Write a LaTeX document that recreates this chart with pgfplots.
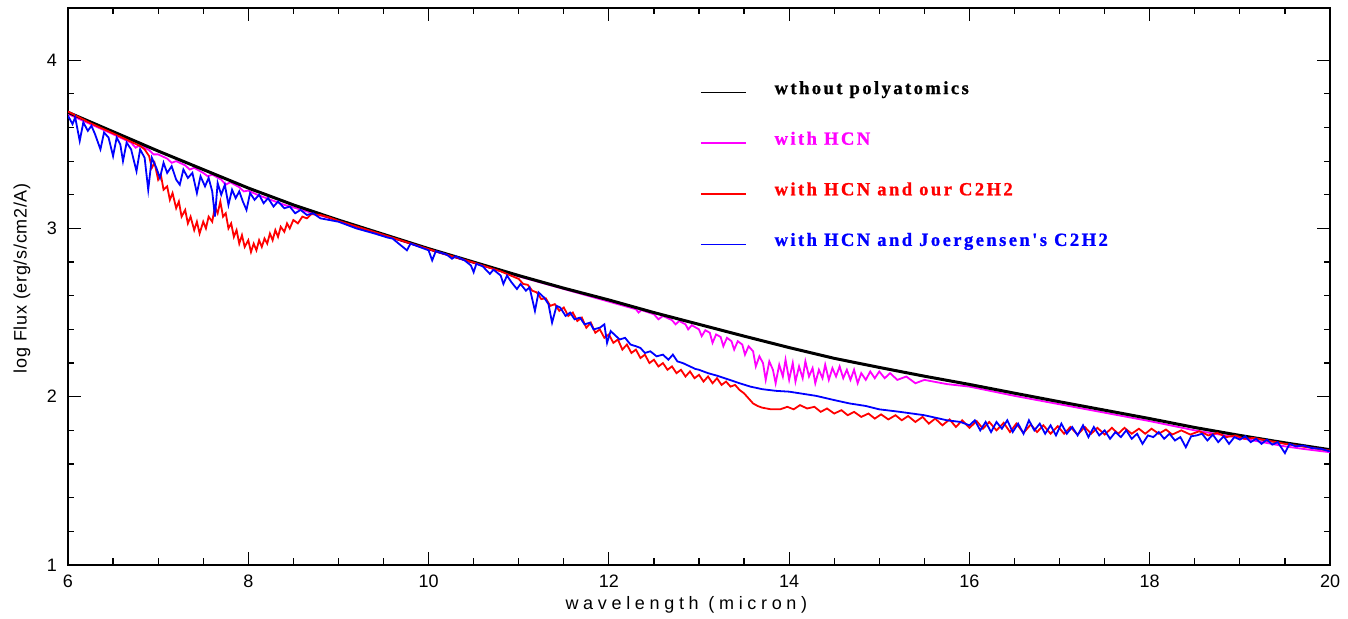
\documentclass[border=0pt]{standalone}
\usepackage{fontspec}
\setmainfont{Liberation Sans}
\newfontfamily\legfont[LetterSpace=13,FakeBold=1]{Liberation Serif}
\newfontfamily\xlabfont[LetterSpace=26]{Liberation Sans}
\newfontfamily\ylabfont[LetterSpace=4]{Liberation Sans}
\usepackage{pgfplots}
\pgfplotsset{compat=1.18}
\definecolor{pmag}{RGB}{255,0,255}
\definecolor{pred}{RGB}{255,0,0}
\definecolor{pblue}{RGB}{0,0,255}

\pgfplotstableread{
x y
6 3.69
6.5 3.575
7 3.46
7.5 3.35
8 3.24
8.5 3.14
9 3.05
9.5 2.965
10 2.88
10.5 2.80
11 2.72
11.5 2.645
12 2.575
12.5 2.50
13 2.43
13.5 2.36
14 2.292
14.5 2.228
15 2.174
15.5 2.122
16 2.073
16.5 2.021
17 1.97
17.5 1.92
18 1.87
18.5 1.817
19 1.77
19.5 1.726
20 1.685
}\blackdata

\pgfplotstableread{
x y
6.0 3.68
6.25 3.62
6.5 3.56
6.70 3.51
6.75 3.48
6.80 3.495
6.90 3.465
6.95 3.44
7.00 3.44
7.10 3.415
7.15 3.39
7.20 3.40
7.30 3.375
7.35 3.35
7.40 3.36
7.50 3.33
7.55 3.31
7.60 3.32
7.70 3.29
7.75 3.26
7.80 3.275
7.90 3.245
7.95 3.22
8.00 3.225
8.10 3.20
8.20 3.18
8.30 3.16
8.40 3.14
8.50 3.125
8.75 3.085
9.0 3.045
9.5 2.96
10 2.875
10.5 2.795
11 2.715
11.5 2.64
12 2.565
12.2 2.535
12.3 2.52
12.33 2.50
12.36 2.515
12.5 2.49
12.55 2.46
12.6 2.48
12.7 2.455
12.74 2.43
12.78 2.45
12.85 2.43
12.88 2.40
12.92 2.425
13.0 2.40
13.03 2.36
13.07 2.395
13.12 2.38
13.15 2.32
13.19 2.37
13.24 2.355
13.27 2.30
13.31 2.35
13.36 2.33
13.39 2.28
13.43 2.33
13.48 2.31
13.51 2.25
13.55 2.30
13.60 2.27
13.63 2.18
13.67 2.24
13.71 2.20
13.74 2.10
13.78 2.21
13.82 2.16
13.85 2.08
13.89 2.19
13.93 2.12
13.96 2.22
14.00 2.10
14.04 2.20
14.07 2.09
14.11 2.18
14.15 2.11
14.18 2.21
14.22 2.12
14.26 2.17
14.29 2.08
14.33 2.16
14.37 2.11
14.40 2.19
14.44 2.10
14.48 2.17
14.52 2.12
14.56 2.18
14.60 2.11
14.64 2.16
14.68 2.10
14.72 2.16
14.76 2.08
14.80 2.14
14.85 2.10
14.90 2.15
14.95 2.11
15.00 2.15
15.06 2.11
15.12 2.14
15.20 2.10
15.30 2.12
15.40 2.08
15.50 2.10
15.75 2.075
16 2.06
16.5 2.005
17 1.955
17.5 1.905
18 1.855
18.5 1.80
19 1.755
19.5 1.705
19.7 1.69
20 1.67
}\magentadata

\pgfplotstableread{
x y
6.0 3.695
6.25 3.625
6.5 3.565
6.7 3.515
6.8 3.49
6.85 3.47
6.9 3.43
6.93 3.36
6.96 3.39
7.00 3.29
7.03 3.32
7.06 3.23
7.10 3.25
7.13 3.17
7.16 3.21
7.20 3.12
7.23 3.16
7.26 3.07
7.30 3.11
7.33 3.03
7.36 3.07
7.40 2.99
7.43 3.04
7.46 2.97
7.50 3.04
7.53 3.00
7.56 3.07
7.60 3.04
7.63 3.13
7.66 3.09
7.69 3.16
7.72 3.07
7.75 3.09
7.78 3.00
7.81 3.03
7.84 2.95
7.87 2.99
7.90 2.91
7.93 2.96
7.96 2.89
8.00 2.93
8.03 2.86
8.06 2.91
8.09 2.87
8.12 2.93
8.15 2.89
8.18 2.94
8.21 2.91
8.24 2.97
8.27 2.93
8.30 2.99
8.33 2.95
8.36 3.01
8.40 2.98
8.43 3.03
8.46 3.00
8.50 3.05
8.55 3.03
8.60 3.07
8.65 3.06
8.70 3.085
8.80 3.08
8.90 3.065
9.0 3.045
9.5 2.962
10 2.877
10.5 2.797
10.8 2.745
11.0 2.70
11.05 2.67
11.1 2.665
11.15 2.63
11.2 2.62
11.25 2.58
11.3 2.585
11.35 2.54
11.4 2.55
11.45 2.51
11.5 2.53
11.55 2.48
11.6 2.50
11.65 2.45
11.7 2.47
11.75 2.41
11.8 2.44
11.85 2.38
11.9 2.40
11.95 2.35
12.0 2.37
12.05 2.32
12.1 2.34
12.15 2.28
12.2 2.31
12.25 2.26
12.3 2.28
12.35 2.23
12.4 2.25
12.45 2.20
12.5 2.22
12.55 2.18
12.6 2.20
12.65 2.16
12.7 2.18
12.75 2.14
12.8 2.16
12.85 2.12
12.9 2.15
12.95 2.11
13.0 2.13
13.05 2.09
13.1 2.12
13.15 2.08
13.2 2.11
13.25 2.07
13.3 2.09
13.35 2.06
13.4 2.07
13.45 2.04
13.5 2.02
13.55 1.99
13.6 1.96
13.65 1.945
13.7 1.935
13.8 1.925
13.9 1.925
13.98 1.94
14.05 1.925
14.12 1.95
14.2 1.93
14.28 1.94
14.35 1.91
14.42 1.93
14.5 1.90
14.58 1.92
14.65 1.89
14.72 1.91
14.8 1.88
14.88 1.90
14.95 1.87
15.02 1.895
15.1 1.865
15.18 1.89
15.25 1.86
15.32 1.885
15.4 1.85
15.48 1.88
15.55 1.84
15.62 1.87
15.7 1.83
15.78 1.865
15.85 1.82
15.92 1.86
16.0 1.815
16.08 1.855
16.15 1.81
16.22 1.85
16.3 1.80
16.38 1.845
16.45 1.79
16.52 1.84
16.6 1.785
16.68 1.835
16.75 1.79
16.82 1.83
16.9 1.78
16.98 1.825
17.05 1.78
17.12 1.82
17.2 1.775
17.28 1.82
17.35 1.78
17.42 1.815
17.5 1.775
17.58 1.815
17.65 1.78
17.72 1.815
17.8 1.78
17.88 1.81
17.95 1.78
18.02 1.81
18.1 1.78
18.18 1.805
18.25 1.775
18.35 1.80
18.45 1.775
18.55 1.795
18.65 1.77
18.75 1.785
18.85 1.76
18.95 1.77
19.05 1.75
19.15 1.755
19.3 1.74
19.5 1.72
19.75 1.70
20 1.68
}\reddata

\pgfplotstableread{
x y
6.00 3.67
6.05 3.62
6.08 3.66
6.13 3.52
6.17 3.63
6.22 3.58
6.26 3.61
6.30 3.56
6.36 3.47
6.40 3.57
6.45 3.54
6.50 3.43
6.54 3.54
6.58 3.50
6.61 3.40
6.65 3.51
6.70 3.47
6.76 3.34
6.80 3.47
6.85 3.42
6.89 3.23
6.93 3.42
6.98 3.36
7.02 3.30
7.06 3.39
7.10 3.33
7.15 3.37
7.20 3.29
7.24 3.26
7.28 3.35
7.33 3.30
7.38 3.33
7.43 3.21
7.47 3.31
7.52 3.25
7.56 3.30
7.60 3.22
7.63 3.07
7.66 3.27
7.70 3.20
7.74 3.26
7.78 3.14
7.82 3.23
7.86 3.18
7.90 3.22
7.94 3.16
7.98 3.11
8.02 3.21
8.07 3.17
8.12 3.20
8.17 3.15
8.22 3.18
8.28 3.13
8.33 3.16
8.40 3.12
8.46 3.13
8.52 3.09
8.58 3.11
8.65 3.08
8.72 3.09
8.80 3.06
8.90 3.05
9.0 3.04
9.2 3.00
9.4 2.97
9.55 2.945
9.6 2.94
9.76 2.87
9.8 2.91
9.9 2.89
10.0 2.87
10.04 2.81
10.08 2.865
10.2 2.845
10.26 2.82
10.3 2.835
10.4 2.81
10.47 2.78
10.5 2.74
10.53 2.79
10.6 2.775
10.68 2.73
10.72 2.755
10.8 2.72
10.83 2.67
10.87 2.72
10.92 2.68
10.98 2.64
11.02 2.67
11.08 2.63
11.12 2.65
11.18 2.51
11.22 2.62
11.28 2.59
11.33 2.55
11.37 2.44
11.42 2.54
11.46 2.53
11.52 2.48
11.57 2.50
11.62 2.46
11.68 2.47
11.73 2.43
11.79 2.44
11.83 2.40
11.9 2.41
11.95 2.43
11.98 2.32
12.02 2.39
12.08 2.36
12.12 2.34
12.18 2.35
12.24 2.31
12.3 2.30
12.35 2.29
12.4 2.26
12.46 2.27
12.53 2.24
12.6 2.25
12.66 2.22
12.71 2.25
12.76 2.21
12.82 2.20
12.9 2.18
12.96 2.165
13.0 2.16
13.1 2.14
13.2 2.125
13.34 2.10
13.45 2.08
13.57 2.06
13.7 2.045
13.85 2.035
14.0 2.03
14.12 2.02
14.3 2.005
14.5 1.98
14.67 1.96
14.85 1.945
15.0 1.925
15.23 1.91
15.5 1.89
15.75 1.86
15.9 1.85
16.0 1.83
16.06 1.86
16.12 1.80
16.18 1.85
16.24 1.79
16.3 1.85
16.36 1.81
16.42 1.86
16.48 1.79
16.54 1.84
16.6 1.78
16.66 1.86
16.72 1.80
16.78 1.84
16.84 1.78
16.9 1.83
16.96 1.77
17.02 1.84
17.08 1.78
17.14 1.82
17.2 1.77
17.26 1.83
17.32 1.76
17.38 1.82
17.44 1.77
17.5 1.80
17.56 1.75
17.62 1.79
17.68 1.76
17.74 1.80
17.8 1.75
17.86 1.78
17.92 1.72
17.98 1.77
18.04 1.76
18.1 1.79
18.16 1.75
18.22 1.78
18.28 1.74
18.34 1.76
18.4 1.70
18.46 1.765
18.52 1.77
18.58 1.78
18.64 1.74
18.7 1.775
18.76 1.73
18.82 1.765
18.88 1.72
18.94 1.76
19.0 1.745
19.06 1.765
19.12 1.73
19.18 1.75
19.24 1.72
19.3 1.745
19.36 1.715
19.42 1.73
19.5 1.665
19.55 1.72
19.62 1.705
19.7 1.71
19.8 1.695
19.9 1.69
20 1.675
}\bluedata

\begin{document}
\begin{tikzpicture}
\begin{axis}[
  scale only axis,
  width=631pt, height=278.5pt,
  xmin=6, xmax=20, ymin=1, ymax=4.31,
  xtick={6,8,...,20}, ytick={1,2,3,4},
  minor x tick num=3, minor y tick num=4,
  major tick length=6.5pt, minor tick length=3.25pt,
  tick style={line width=0.6pt, black},
  axis line style={line width=1pt},
  /pgf/number format/assume math mode=true,
  tick label style={font=\fontsize{9}{10}\selectfont},
  xticklabel style={yshift=-1.3pt},
  yticklabel style={xshift=-2pt},
  xlabel={\xlabfont\fontsize{9}{10}\selectfont wavelength (micron)},
  ylabel={\ylabfont\fontsize{9}{10}\selectfont log Flux (erg/s/cm2/A)},
  every axis x label/.style={at={(axis description cs:0.49,-0.0718)}, anchor=center},
  every axis y label/.style={at={(axis description cs:-0.0364,0.515)}, rotate=90, anchor=center},
  legend image code/.code={\draw[#1, line width=0.8pt] (0pt,-1.5pt) -- (22.5pt,-1.5pt);},
  legend style={draw=none, fill=none, inner sep=0pt, outer sep=0pt,
    at={(axis cs:13.011,3.374)}, anchor=west,
    row sep=16.8pt, column sep=14pt,
    nodes={inner sep=0pt, text height=6.5pt, text depth=2pt,
      font=\legfont\bfseries\fontsize{9.3}{10}\selectfont}},
  legend cell align=left,
]
\addlegendimage{color=black}
\addlegendentry{wthout polyatomics}
\addlegendimage{color=pmag}
\addlegendentry{\textcolor{pmag}{with HCN}}
\addlegendimage{color=pred}
\addlegendentry{\textcolor{pred}{with HCN and our C2H2}}
\addlegendimage{color=pblue}
\addlegendentry{\textcolor{pblue}{with HCN and Joergensen's C2H2}}

\addplot[forget plot, color=pmag, line width=0.9pt] table[x=x,y=y] {\magentadata};
\addplot[forget plot, color=black, line width=1.5pt] table[x=x,y=y] {\blackdata};
\addplot[forget plot, color=pred, line width=0.9pt] table[x=x,y=y] {\reddata};
\addplot[forget plot, color=pblue, line width=0.9pt] table[x=x,y=y] {\bluedata};
\end{axis}
\pgfresetboundingbox
\path[use as bounding box] ([xshift=-34pt,yshift=-27pt]current axis.south west) rectangle ([xshift=9pt,yshift=4pt]current axis.north east);
\end{tikzpicture}
\end{document}
